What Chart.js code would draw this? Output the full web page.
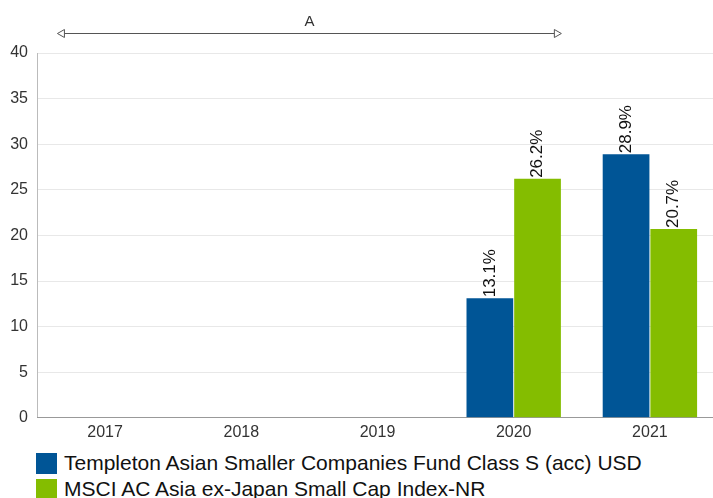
<!DOCTYPE html>
<html>
<head>
<meta charset="utf-8">
<script src="https://cdn.jsdelivr.net/npm/chart.js@4"></script>
<style>
    html, body { margin: 0; padding: 0; background: #fff; overflow: hidden; }
    #wrap { position: relative; width: 718px; height: 450px; }
    .legend { position: absolute; left: 36px; top: 450px; font-family: "Liberation Sans", Arial, sans-serif; font-size: 21px; color: #111; }
    .legend div { display: flex; align-items: center; height: 26px; white-space: nowrap; }
    .legend span { display: inline-block; width: 21px; height: 21px; margin-right: 7px; }
</style>
</head>
<body>
<div id="wrap"><canvas id="perfChart"></canvas></div>
<div class="legend" id="legend"></div>
<script>
// Calendar year performance data
const years = ['2017', '2018', '2019', '2020', '2021'];
const fundValues = [null, null, null, 13.1, 28.9];
const indexValues = [null, null, null, 26.2, 20.7];
const seriesNames = [
    'Templeton Asian Smaller Companies Fund Class S (acc) USD',
    'MSCI AC Asia ex-Japan Small Cap Index-NR'
];
const seriesColors = ['#005596', '#84bd00'];
const yTicks = [0, 5, 10, 15, 20, 25, 30, 35, 40];

const fontFamily = '"Liberation Sans", Arial, sans-serif';

// Rotated value labels above bars
const barLabels = {
    id: 'barLabels',
    afterDatasetsDraw(chart) {
        const ctx = chart.ctx;
        ctx.save();
        ctx.font = '17px ' + fontFamily;
        ctx.fillStyle = '#111';
        ctx.textAlign = 'left';
        ctx.textBaseline = 'middle';
        chart.data.datasets.forEach((ds, i) => {
            chart.getDatasetMeta(i).data.forEach((bar, j) => {
                if (ds.data[j] == null) return;
                ctx.save();
                ctx.translate(bar.x, bar.y - 1);
                ctx.rotate(-Math.PI / 2);
                ctx.fillText(ds.data[j].toFixed(1) + '%', 0, 0);
                ctx.restore();
            });
        });
        ctx.restore();
    }
};

// Period arrow "A" above the plot
const periodArrow = {
    id: 'periodArrow',
    afterDraw(chart) {
        const ctx = chart.ctx;
        const x = chart.scales.x;
        const step = x.getPixelForValue(1) - x.getPixelForValue(0);
        const x1 = x.getPixelForValue(0) - step * 0.35;
        const x2 = x.getPixelForValue(3) + step * 0.35;
        const y = 33;
        ctx.save();
        ctx.strokeStyle = '#555';
        ctx.lineWidth = 1;
        ctx.beginPath();
        ctx.moveTo(x1 + 7, y + 0.5);
        ctx.lineTo(x2 - 7, y + 0.5);
        ctx.stroke();
        ctx.fillStyle = '#fff';
        ctx.beginPath();
        ctx.moveTo(x1, y + 0.5);
        ctx.lineTo(x1 + 7, y - 3.5);
        ctx.lineTo(x1 + 7, y + 4.5);
        ctx.closePath();
        ctx.fill();
        ctx.stroke();
        ctx.beginPath();
        ctx.moveTo(x2, y + 0.5);
        ctx.lineTo(x2 - 7, y - 3.5);
        ctx.lineTo(x2 - 7, y + 4.5);
        ctx.closePath();
        ctx.fill();
        ctx.stroke();
        ctx.fillStyle = '#333';
        ctx.font = '15px ' + fontFamily;
        ctx.textAlign = 'center';
        ctx.textBaseline = 'middle';
        ctx.fillText('A', (x1 + x2) / 2, 22);
        ctx.restore();
    }
};

const ctx = document.getElementById('perfChart').getContext('2d');
const perfChart = new Chart(ctx, {
    type: 'bar',
    data: {
        labels: years,
        datasets: [{
            label: seriesNames[0],
            data: fundValues,
            backgroundColor: seriesColors[0],
            borderWidth: 0
        }, {
            label: seriesNames[1],
            data: indexValues,
            backgroundColor: seriesColors[1],
            borderWidth: 0
        }]
    },
    options: {
        responsive: true,
        maintainAspectRatio: false,
        animation: false,
        layout: {
            padding: { top: 53, right: 0, left: 0, bottom: 3 }
        },
        datasets: {
            bar: { categoryPercentage: 0.7, barPercentage: 0.98 }
        },
        plugins: {
            legend: { display: false },
            tooltip: { enabled: false }
        },
        scales: {
            y: {
                min: 0,
                max: 40,
                afterBuildTicks(axis) {
                    axis.ticks = yTicks.map(v => ({ value: v }));
                },
                afterFit(axis) {
                    axis.width = 37;
                },
                ticks: {
                    padding: 9,
                    color: '#333',
                    font: { family: fontFamily, size: 16 }
                },
                grid: {
                    color: '#e8e8e8',
                    drawTicks: false
                },
                border: { color: '#bbb' }
            },
            x: {
                ticks: {
                    padding: 5,
                    color: '#333',
                    font: { family: fontFamily, size: 16 }
                },
                grid: { display: false, drawTicks: false },
                border: { color: '#999' }
            }
        }
    },
    plugins: [barLabels, periodArrow]
});

// Legend below chart
const legend = document.getElementById('legend');
seriesNames.forEach((name, i) => {
    const row = document.createElement('div');
    row.innerHTML = `<span style="background:${seriesColors[i]}"></span>${name}`;
    legend.appendChild(row);
});
</script>
</body>
</html>
